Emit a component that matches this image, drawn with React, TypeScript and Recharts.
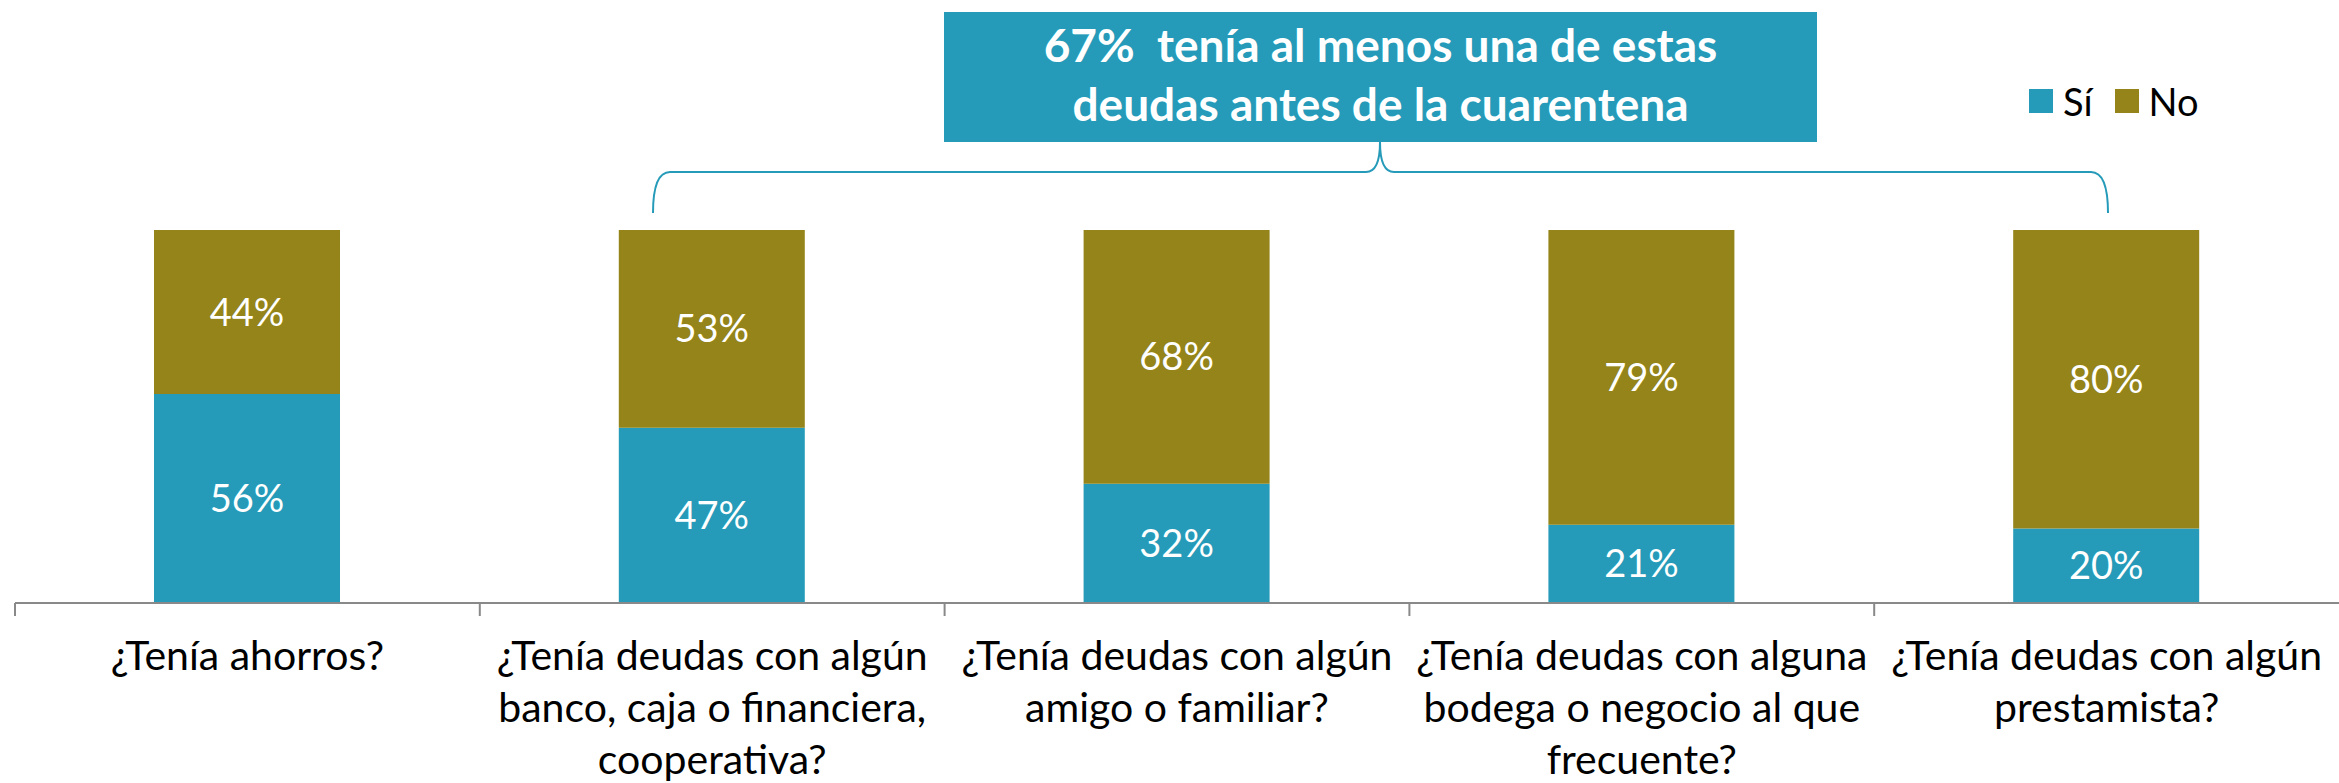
import { Bar, BarChart, LabelList, Legend, XAxis, YAxis } from "recharts";

// categorías y porcentajes
const categories = [
  "¿Tenía ahorros?",
  "¿Tenía deudas con algún\nbanco, caja o financiera,\ncooperativa?",
  "¿Tenía deudas con algún\namigo o familiar?",
  "¿Tenía deudas con alguna\nbodega o negocio al que\nfrecuente?",
  "¿Tenía deudas con algún\nprestamista?",
];
const si = [56, 47, 32, 21, 20];
const no = [44, 53, 68, 79, 80];
const seriesOrder = ["si", "no"];
const titleLines = ["67%  tenía al menos una de estas", "deudas antes de la cuarentena"];

const data = categories.map((c, i) => ({ name: c, si: si[i], no: no[i] }));

const W = 2339;
const H = 783;
const M_LEFT = 15;
const BAND = (W - M_LEFT) / categories.length;
const TEAL = "#259bb9";
const OLIVE = "#948419";
const FONT = "Lato, 'Open Sans', sans-serif";

function CategoryTick(props: any) {
  const { x, y, payload } = props;
  const lines = String(payload.value).split("\n");
  return (
    <g>
      <line x1={x - BAND / 2} x2={x - BAND / 2} y1={y} y2={y + 13} stroke="#898989" strokeWidth={2} />
      <text textAnchor="middle" fontSize={41} fill="#000" fontFamily={FONT}>
        {lines.map((l, i) => (
          <tspan key={i} x={x} y={y + 67 + i * 52}>
            {l}
          </tspan>
        ))}
      </text>
    </g>
  );
}

function LegendContent(props: any) {
  const items = [...(props.payload || [])].sort(
    (a: any, b: any) => seriesOrder.indexOf(a.dataKey) - seriesOrder.indexOf(b.dataKey)
  );
  return (
    <div style={{ display: "flex", alignItems: "center", fontFamily: FONT, fontSize: 38, color: "#000" }}>
      {items.map((p: any) => (
        <div key={p.value} style={{ display: "flex", alignItems: "center", marginRight: 22 }}>
          <div style={{ width: 24, height: 24, background: p.color, marginRight: 10 }} />
          <span style={{ lineHeight: "40px" }}>{p.value}</span>
        </div>
      ))}
    </div>
  );
}

export default function App() {
  return (
    <div style={{ position: "relative", width: W, height: H, background: "#fff" }}>
      <style>{`body{margin:0}`}</style>
      <BarChart
        width={W}
        height={H}
        data={data}
        margin={{ top: 230, right: 0, bottom: 0, left: M_LEFT }}
        barSize={186}
      >
        <XAxis
          dataKey="name"
          height={180}
          axisLine={{ stroke: "#898989", strokeWidth: 2 }}
          tickLine={false}
          tickSize={0}
          tickMargin={0}
          interval={0}
          tick={<CategoryTick />}
        />
        <YAxis hide domain={[0, 100]} />
        <Legend
          verticalAlign="middle"
          layout="horizontal"
          content={<LegendContent />}
          wrapperStyle={{ position: "absolute", top: 81, left: 2029, width: 260 }}
        />
        <Bar dataKey="si" name="Sí" stackId="a" fill={TEAL} isAnimationActive={false}>
          <LabelList
            dataKey="si"
            position="center"
            formatter={(v: any) => `${v}%`}
            fill="#fff"
            fontSize={38}
            fontFamily={FONT}
          />
        </Bar>
        <Bar dataKey="no" name="No" stackId="a" fill={OLIVE} isAnimationActive={false}>
          <LabelList
            dataKey="no"
            position="center"
            formatter={(v: any) => `${v}%`}
            fill="#fff"
            fontSize={38}
            fontFamily={FONT}
          />
        </Bar>
      </BarChart>

      {/* recuadro del título */}
      <div
        style={{
          position: "absolute",
          left: 944,
          top: 12,
          width: 873,
          height: 130,
          boxSizing: "border-box",
          paddingBottom: 6,
          background: TEAL,
          color: "#fff",
          fontFamily: FONT,
          fontWeight: 700,
          fontSize: 46,
          lineHeight: "59px",
          textAlign: "center",
          display: "flex",
          flexDirection: "column",
          justifyContent: "center",
        }}
      >
        {titleLines.map((t, i) => (
          <div key={i} style={{ whiteSpace: "pre" }}>
            {t}
          </div>
        ))}
      </div>

      {/* llave */}
      <svg width={W} height={H} style={{ position: "absolute", left: 0, top: 0, pointerEvents: "none" }}>
        <path
          d="M 653 213 Q 653 172 670 172 L 1366 172 Q 1380 172 1380 142 Q 1380 172 1394 172 L 2091 172 Q 2108 172 2108 213"
          fill="none"
          stroke={TEAL}
          strokeWidth={2}
        />
      </svg>
    </div>
  );
}
